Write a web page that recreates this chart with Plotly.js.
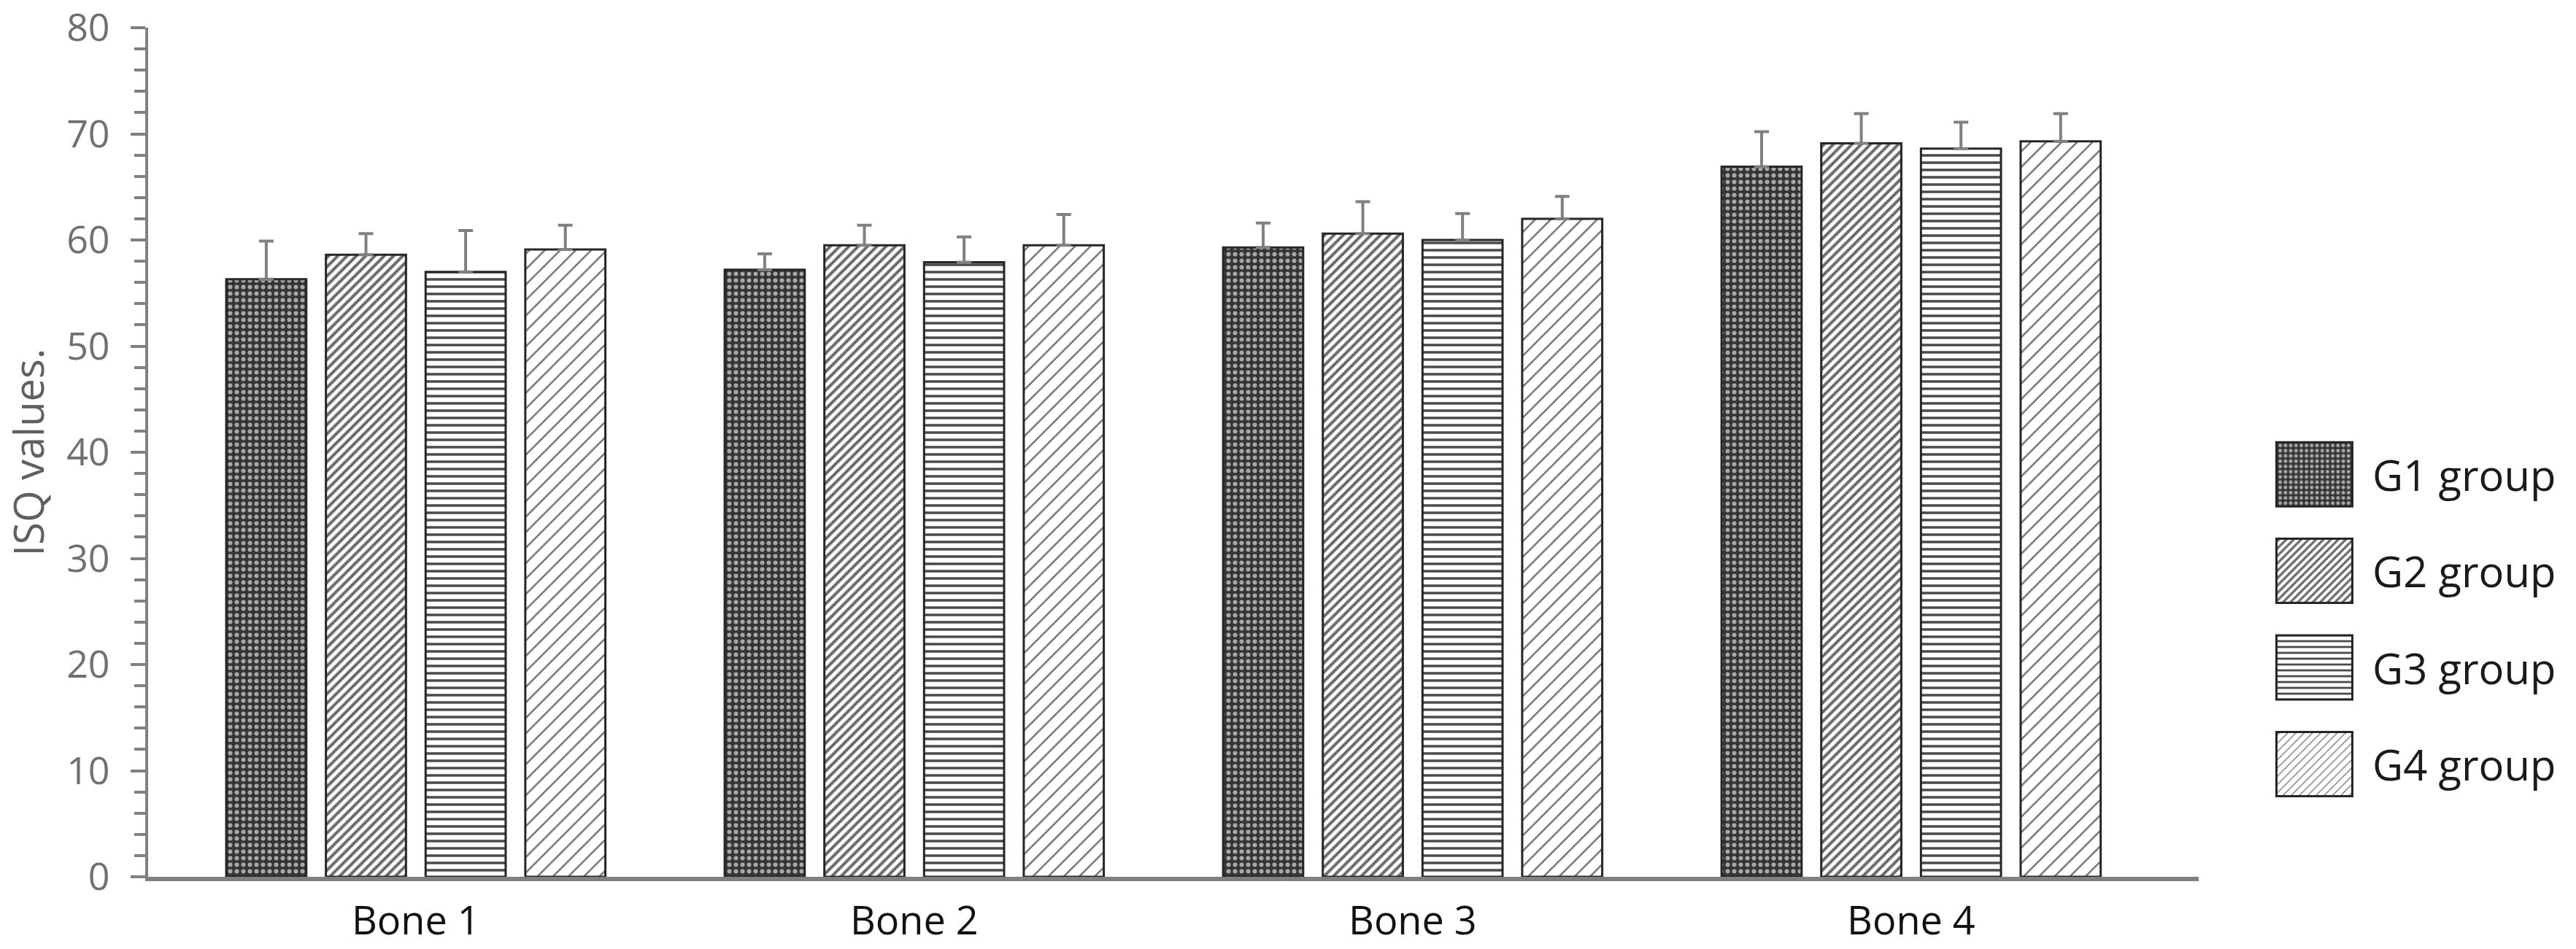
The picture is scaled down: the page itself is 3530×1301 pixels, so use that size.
<!DOCTYPE html>
<html>
<head>
<meta charset="utf-8">
<script src="https://cdn.plot.ly/plotly-3.0.1.min.js"></script>
<style>
  html, body { margin: 0; padding: 0; background: #fff; }
  #chart { width: 3530px; height: 1301px; }
</style>
</head>
<body>
<div id="chart"></div>
<script>
// categories and groups
const bones = ['Bone 1', 'Bone 2', 'Bone 3', 'Bone 4'];
const groupNames = ['G1 group', 'G2 group', 'G3 group', 'G4 group'];

// mean ISQ values
const g1Mean = [56.3, 57.2, 59.3, 66.9];
const g2Mean = [58.6, 59.5, 60.6, 69.1];
const g3Mean = [57.0, 57.9, 60.0, 68.6];
const g4Mean = [59.1, 59.5, 62.0, 69.3];

// upper error (SD)
const g1Err = [3.6, 1.5, 2.3, 3.3];
const g2Err = [2.0, 1.9, 3.0, 2.8];
const g3Err = [3.9, 2.4, 2.5, 2.5];
const g4Err = [2.3, 2.9, 2.1, 2.6];

const yTicks = [0, 10, 20, 30, 40, 50, 60, 70, 80];

const means = [g1Mean, g2Mean, g3Mean, g4Mean];
const errs = [g1Err, g2Err, g3Err, g4Err];

const patterns = [
    { shape: '.', fgcolor: '#a8a8a8', bgcolor: '#353535', size: 9, solidity: 0.35 },
    { shape: '/', fgcolor: '#6a6a6a', bgcolor: '#ffffff', size: 9, solidity: 0.45 },
    { shape: '-', fgcolor: '#4a4a4a', bgcolor: '#ffffff', size: 10, solidity: 0.35 },
    { shape: '/', fgcolor: '#707070', bgcolor: '#ffffff', size: 15, solidity: 0.16 }
];

let traces = [];
for (let i = 0; i < groupNames.length; i++) {
    traces.push({
        type: 'bar',
        name: groupNames[i],
        legendgroup: groupNames[i],
        x: bones,
        y: means[i],
        marker: {
            color: '#ffffff',
            pattern: patterns[i],
            line: { color: '#262626', width: 3 }
        },
        error_y: {
            type: 'data',
            symmetric: false,
            array: errs[i],
            arrayminus: errs[i].map(() => 0),
            color: '#808080',
            thickness: 4,
            width: 10
        },
        hoverinfo: 'skip'
    });
}

let layout = {
    width: 3530,
    height: 1301,
    paper_bgcolor: '#ffffff',
    plot_bgcolor: '#ffffff',
    margin: { l: 203, r: 517, t: 38, b: 99 },
    barmode: 'group',
    bargap: 0.2,
    bargroupgap: 0.197,
    font: { family: '"Open Sans", Lato, sans-serif', color: '#595959' },
    xaxis: {
        range: [-0.537, 3.577],
        showline: true,
        linecolor: '#808080',
        linewidth: 6,
        ticks: '',
        showgrid: false,
        zeroline: false,
        ticklabelstandoff: 8,
        tickfont: { size: 54, color: '#111111' }
    },
    yaxis: {
        range: [0, 80],
        tickvals: yTicks,
        showline: true,
        linecolor: '#808080',
        linewidth: 4,
        ticks: 'outside',
        ticklen: 20,
        tickwidth: 4,
        tickcolor: '#808080',
        minor: { dtick: 2, ticks: 'outside', ticklen: 15, tickwidth: 4, tickcolor: '#808080' },
        showgrid: false,
        zeroline: false,
        ticklabelstandoff: 18,
        tickfont: { size: 52, color: '#707070' },
        title: { text: 'ISQ values.', font: { size: 56, color: '#606060' }, standoff: 22 }
    },
    showlegend: true,
    legend: {
        xref: 'container',
        yref: 'container',
        x: 3092 / 3530,
        y: 1 - 606 / 1301,
        xanchor: 'left',
        yanchor: 'top',
        itemwidth: 149,
        tracegroupgap: 54,
        font: { size: 58, color: '#1a1a1a' },
        bgcolor: 'rgba(0,0,0,0)'
    }
};

Plotly.newPlot('chart', traces, layout, { staticPlot: true }).then(gd => {
    // enlarge the legend swatches to the size of the reference boxes
    gd.querySelectorAll('.legend .legendpoints path').forEach(p => {
        p.setAttribute('d', 'M52,44H-52V-44H52Z');
    });
    gd.querySelectorAll('.legend .scrollbox').forEach(g => g.removeAttribute('clip-path'));
});
</script>
</body>
</html>
